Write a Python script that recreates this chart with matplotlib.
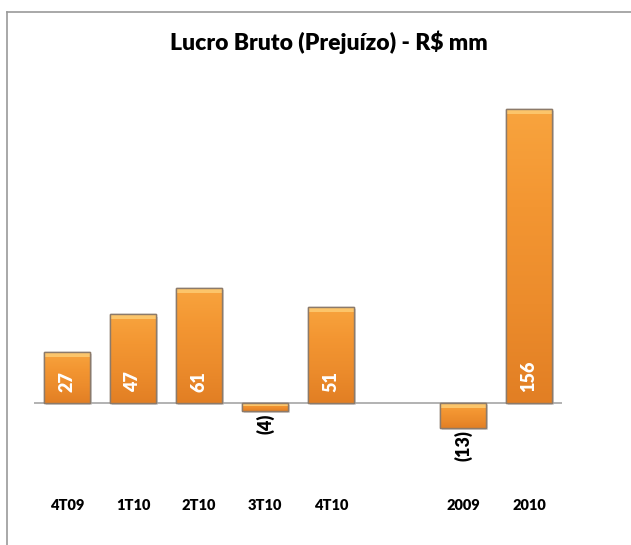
import numpy as np
import matplotlib.pyplot as plt
from matplotlib.lines import Line2D
from matplotlib.colors import LinearSegmentedColormap

categorias = ["4T09", "1T10", "2T10", "3T10", "4T10", "2009", "2010"]
posicoes = [0, 1, 2, 3, 4, 6, 7]
valores = [27, 47, 61, -4, 51, -13, 156]
rotulos = ["27", "47", "61", "(4)", "51", "(13)", "156"]

plt.rcParams['font.family'] = ['Lato', 'DejaVu Sans']

W, H = 631, 545
fig = plt.figure(figsize=(W / 100, H / 100), dpi=100)
fig.patch.set_facecolor('white')

# moldura (cortada a direita e embaixo)
fig.add_artist(Line2D([7 / W, 7 / W], [0, 1 - 12 / H], color='#9a9a9a', lw=1.2))
fig.add_artist(Line2D([7 / W, 1], [1 - 12 / H, 1 - 12 / H], color='#9a9a9a', lw=1.2))

# eixo: zero em y=403px, 1.885 px por unidade
ax = fig.add_axes([34 / W, 65 / H, (562 - 34) / W, 420 / H])

fig.text(329 / W, 1 - 42 / H, "Lucro Bruto (Prejuízo) - R$ mm",
         ha='center', va='center', fontsize=16.5, fontweight='heavy')

ax.axhline(0, color='#a6a6a6', lw=1.2, zorder=1)

cmap = LinearSegmentedColormap.from_list('lar', ['#f8a43e', '#f39632', '#ec8c2c', '#e27f24'])
bars = ax.bar(posicoes, valores, width=0.71, color='#f39432',
              edgecolor='#8c7a6a', lw=1.0, zorder=3)
grad = np.linspace(0, 1, 100).reshape(-1, 1)
for b in bars:
    x0, y0, w, h = b.get_x(), b.get_y(), b.get_width(), b.get_height()
    top, bot = max(y0, y0 + h), min(y0, y0 + h)
    im = ax.imshow(grad, cmap=cmap, aspect='auto', extent=[x0, x0 + w, bot, top],
                   origin='upper', zorder=3.5, interpolation='bilinear')
    im.set_clip_path(b)
    # brilho no topo
    faixa = min(2.5, abs(h) * 0.4)
    ax.bar(x0 + w / 2, faixa, width=w, bottom=top - faixa, color='#fcc56a',
           zorder=3.6, lw=0)
    # sombra
    ax.bar(x0 + w / 2 + 0.03, h, width=w, bottom=y0 - 1.2, color='#bbbbbb',
           alpha=0.5, zorder=2, lw=0)
    ax.bar(x0 + w / 2, h, width=w, bottom=y0, facecolor='none',
           edgecolor='#8c7a6a', lw=1.0, zorder=4)
ax.set_ylim(-40.8, 182)
ax.set_xlim(-0.5, 7.5)
ax.axis('off')

for p, v, r in zip(posicoes, valores, rotulos):
    if v >= 0:
        ax.text(p, 5.8, r, rotation=90, ha='center', va='bottom', color='white',
                fontsize=13, fontweight='heavy', zorder=5)
    else:
        ax.text(p, v - 1.5, r, rotation=90, ha='center', va='top', color='black',
                fontsize=13, fontweight='heavy', zorder=5)

for p, c in zip(posicoes, categorias):
    ax.text(p, (40 - 65) / 420, c, transform=ax.get_xaxis_transform(),
            ha='center', va='center', fontsize=10.5, fontweight='heavy', clip_on=False)

fig.savefig('out.png', dpi=100)
